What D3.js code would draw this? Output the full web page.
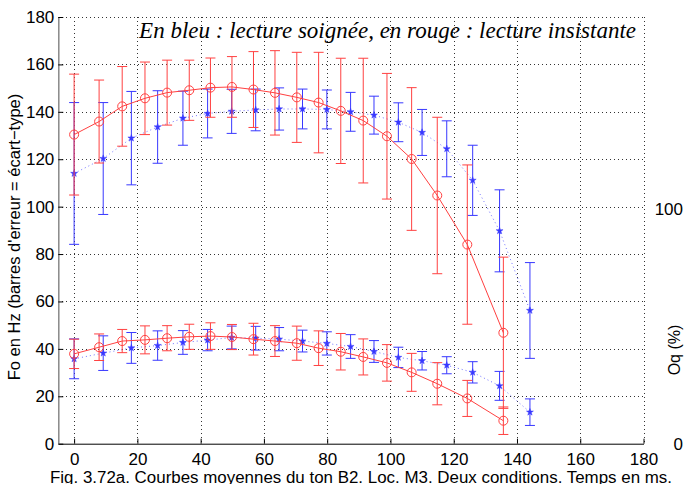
<!DOCTYPE html>
<html>
<head>
<meta charset="utf-8">
<script src="https://cdn.jsdelivr.net/npm/d3@7/dist/d3.min.js"></script>
<style>
html, body { margin: 0; padding: 0; background: #fff; overflow: hidden; }
svg { display: block; }
</style>
</head>
<body>
<svg id="chart" width="685" height="484"></svg>
<script>
// ---- Data ----
const xTicks = [0, 20, 40, 60, 80, 100, 120, 140, 160, 180];
const yTicks = [0, 20, 40, 60, 80, 100, 120, 140, 160, 180];
const rightTicks = [0, 100];

// red: "lecture insistante" (time in ms)
const redTime = [0, 7.9, 15.2, 22.4, 29.4, 36.4, 43.1, 49.9, 56.7, 63.5, 70.4, 77.3, 84.3, 91.4, 98.9, 106.7, 114.8, 124.3, 135.7];
const redFoMean = [130.4, 135.9, 142.3, 145.7, 148.1, 149.1, 150.2, 150.5, 149.4, 148, 146.1, 143.9, 140.4, 136.3, 129.7, 120.1, 104.7, 84, 46.8];
const redFoSd   = [25.5, 17.5, 16.8, 15.3, 13.7, 12.7, 12.5, 12.8, 16, 17.8, 19, 21.2, 22.2, 26.3, 26.5, 30.1, 33, 33.6, 31.9];
const redOqMean = [37.9, 40.7, 43.3, 43.8, 44.5, 45.1, 45.4, 45, 44.1, 43.3, 42.4, 40.3, 38.8, 36.6, 34.1, 30.1, 25.3, 19.1, 9.7];
const redOqSd   = [6.2, 5.6, 4.9, 5.9, 5.3, 5.3, 5.6, 5.3, 6.7, 6.5, 7.2, 7.3, 7.7, 7.6, 7.7, 8, 8.9, 7.6, 5.8];

// blue: "lecture soignée"
const blueTime = [0, 9.2, 18.1, 26.4, 34.4, 42.2, 49.8, 57.4, 64.8, 72.2, 79.9, 87.4, 94.8, 102.5, 110, 117.8, 126, 134.5, 144.1];
const blueFoMean = [114, 120.3, 128.9, 133.6, 137.3, 139.3, 140.2, 140.8, 141.2, 141.2, 141, 140, 138.6, 135.6, 131.3, 124.4, 111.1, 89.8, 56.2];
const blueFoSd   = [29.9, 23.6, 19.7, 15.3, 11.4, 10.3, 9.3, 8.8, 8.9, 8.4, 8.2, 8.2, 8, 8.2, 9.7, 11.8, 14.8, 17.3, 20.2];
const blueOqMean = [35.8, 38.2, 40.4, 41.4, 42.7, 43.7, 44.8, 44.5, 44.1, 43.3, 42.3, 41, 38.9, 36.4, 35, 33.1, 30.1, 24.4, 13.3];
const blueOqSd   = [8.4, 7.3, 6.5, 6.2, 5, 4.5, 4.8, 5, 4.9, 4.6, 4.9, 5, 4.6, 4.3, 3.9, 3.6, 4.5, 6.1, 5.6];

const titleText = "En bleu : lecture soignée, en rouge : lecture insistante";
const captionText = "Fig. 3.72a. Courbes moyennes du ton B2. Loc. M3. Deux conditions. Temps en ms.";
const yLabelText = "Fo en Hz (barres d'erreur = écart\u2212type)";
const rightLabelText = "Oq (%)";

// ---- Layout ----
const svg = d3.select("#chart");
const x = d3.scaleLinear().domain([-5, 180]).range([58.3, 643.5]);
const y = d3.scaleLinear().domain([0, 180]).range([443.7, 17]);
const yR = d3.scaleLinear().domain([0, 100]).range([444.5, 209]);

const RED = "#ff4040";
const BLUE = "#3838ff";
const FONT = "'Liberation Sans', Arial, Helvetica, sans-serif";

// grid
const grid = svg.append("g").attr("stroke", "#333").attr("stroke-width", 1)
  .attr("stroke-dasharray", "1,3").attr("shape-rendering", "crispEdges");
grid.selectAll("line.v").data(xTicks).enter().append("line")
  .attr("x1", d => Math.round(x(d)) + 0.5).attr("x2", d => Math.round(x(d)) + 0.5)
  .attr("y1", y(180)).attr("y2", y(0));
grid.selectAll("line.h").data(yTicks.filter(d => d > 0)).enter().append("line")
  .attr("x1", x(-5)).attr("x2", x(180))
  .attr("y1", d => Math.round(y(d)) + 0.5).attr("y2", d => Math.round(y(d)) + 0.5);

// axes
const xAxis = d3.axisBottom(x).tickValues(xTicks).tickSizeInner(-5).tickSizeOuter(0).tickPadding(9);
const yAxis = d3.axisLeft(y).tickValues(yTicks).tickSizeInner(-5).tickSizeOuter(0).tickPadding(4);

const gx = svg.append("g").attr("transform", `translate(0,${y(0)})`).call(xAxis);
gx.select(".domain").attr("stroke", "#000");
gx.selectAll("text").attr("font-family", FONT).attr("font-size", 17).attr("fill", "#000");

const gy = svg.append("g").attr("transform", `translate(${x(-5)},0)`).call(yAxis);
gy.select(".domain").attr("stroke", "#888").attr("stroke-width", 1.5);
gy.selectAll("text").attr("font-family", FONT).attr("font-size", 17).attr("fill", "#000");

// right axis (Oq), labels only
const yAxisR = d3.axisRight(yR).tickValues(rightTicks).tickSize(0).tickPadding(0);
const gr = svg.append("g").attr("transform", `translate(684,0)`).call(yAxisR);
gr.select(".domain").remove();
gr.selectAll("text").attr("font-family", FONT).attr("font-size", 17).attr("fill", "#000")
  .attr("x", -1).attr("text-anchor", "end");

// error bar helper
function errorBars(times, means, sds, color) {
  const g = svg.append("g").attr("stroke", color).attr("stroke-width", 1).attr("fill", "none");
  const cap = 5;
  times.forEach((t, i) => {
    const cx = x(t), top = y(means[i] + sds[i]), bot = y(means[i] - sds[i]);
    g.append("line").attr("x1", cx).attr("x2", cx).attr("y1", top).attr("y2", bot);
    g.append("line").attr("x1", cx - cap).attr("x2", cx + cap).attr("y1", top).attr("y2", top);
    g.append("line").attr("x1", cx - cap).attr("x2", cx + cap).attr("y1", bot).attr("y2", bot);
  });
}

const line = d3.line().x(d => x(d[0])).y(d => y(d[1]));

function blueSeries(times, means, sds) {
  errorBars(times, means, sds, BLUE);
  const pts = times.map((t, i) => [t, means[i]]);
  svg.append("path").attr("d", line(pts)).attr("fill", "none").attr("stroke", BLUE)
    .attr("stroke-width", 1).attr("stroke-dasharray", "1,3").attr("opacity", 0.7);
  svg.append("g").selectAll("path").data(pts).enter().append("path")
    .attr("d", d3.symbol().type(d3.symbolStar).size(15))
    .attr("transform", d => `translate(${x(d[0])},${y(d[1])})`)
    .attr("fill", BLUE).attr("stroke", BLUE).attr("stroke-width", 0.5);
}

function redSeries(times, means, sds) {
  errorBars(times, means, sds, RED);
  const pts = times.map((t, i) => [t, means[i]]);
  svg.append("path").attr("d", line(pts)).attr("fill", "none").attr("stroke", RED).attr("stroke-width", 1);
  svg.append("g").selectAll("circle").data(pts).enter().append("circle")
    .attr("cx", d => x(d[0])).attr("cy", d => y(d[1])).attr("r", 4.5)
    .attr("fill", "none").attr("stroke", RED).attr("stroke-width", 1);
}

blueSeries(blueTime, blueFoMean, blueFoSd);
blueSeries(blueTime, blueOqMean, blueOqSd);
redSeries(redTime, redFoMean, redFoSd);
redSeries(redTime, redOqMean, redOqSd);

// title
svg.append("text").attr("x", 636).attr("y", 38).attr("text-anchor", "end")
  .attr("font-family", "'Liberation Serif', 'Times New Roman', serif").attr("font-style", "italic")
  .attr("font-size", 23).attr("fill", "#000").text(titleText);

// y label
svg.append("text").attr("transform", "translate(20,237) rotate(-90)").attr("text-anchor", "middle")
  .attr("font-family", FONT).attr("font-size", 16.5).attr("fill", "#000").text(yLabelText);

// right label
svg.append("text").attr("transform", "translate(680,350) rotate(-90)").attr("text-anchor", "middle")
  .attr("font-family", FONT).attr("font-size", 16).attr("fill", "#000").text(rightLabelText);

// caption
svg.append("text").attr("x", 50).attr("y", 482.5).attr("text-anchor", "start")
  .attr("font-family", FONT).attr("font-size", 16).attr("fill", "#000")
  .attr("textLength", 622).attr("lengthAdjust", "spacingAndGlyphs").text(captionText);
</script>
</body>
</html>
